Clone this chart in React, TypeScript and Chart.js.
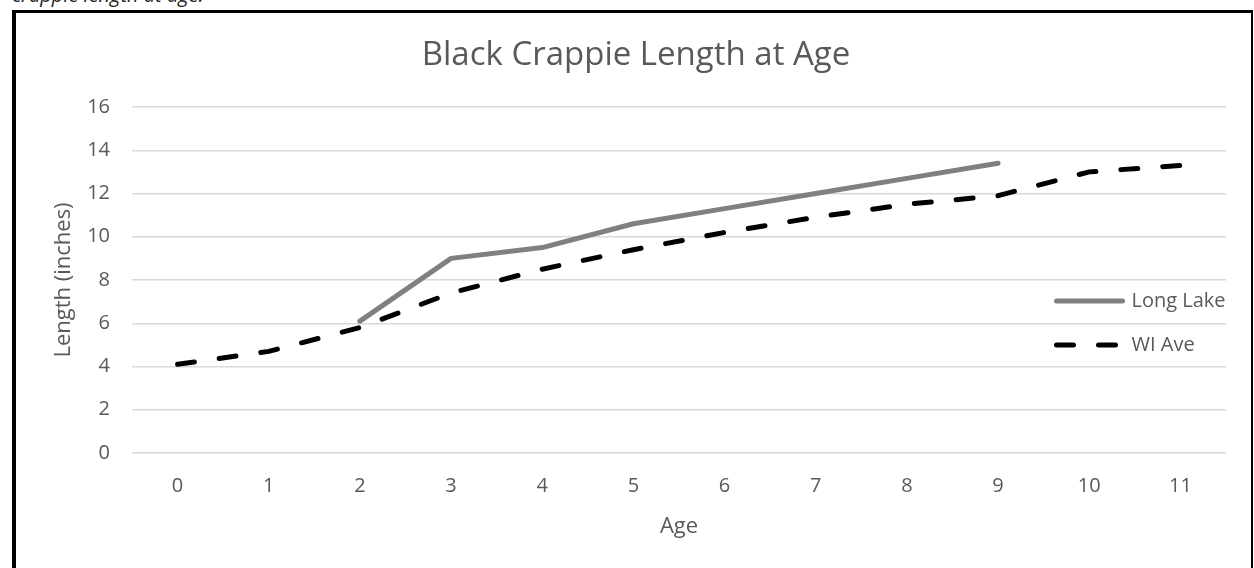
import React, { useEffect, useRef } from "react";
import { Chart, registerables } from "chart.js";

Chart.register(...registerables);

const ages = ["0", "1", "2", "3", "4", "5", "6", "7", "8", "9", "10", "11"];
const longLake = [null, null, 6.1, 9.0, 9.5, 10.6, 11.3, 12.0, 12.7, 13.4, null, null];
const wiAve = [4.1, 4.7, 5.8, 7.4, 8.5, 9.4, 10.2, 10.9, 11.5, 11.9, 13.0, 13.3];
const seriesNames = ["Long Lake", "WI Ave"];
const yMin = 0;
const yMax = 16;
const yStep = 2;
const chartTitle = "Black Crappie Length at Age";
const yTitle = "Length (inches)";
const xTitle = "Age";
const captionText = "crappie length at age.";

const FONT = '"Open Sans", "DejaVu Sans", sans-serif';
const TEXT = "#595959";

const insideLegend = {
  id: "insideLegend",
  afterDatasetsDraw(chart: any) {
    const { ctx, chartArea } = chart;
    const x0 = chartArea.right - 169.5;
    const sampleLen = 66;
    const rows = [chartArea.top + 194, chartArea.top + 238];
    chart.data.datasets.forEach((ds: any, i: number) => {
      const y = rows[i];
      ctx.save();
      ctx.strokeStyle = ds.borderColor;
      ctx.lineWidth = ds.borderWidth;
      ctx.lineCap = "round";
      ctx.setLineDash(ds.borderDash || []);
      ctx.beginPath();
      ctx.moveTo(x0, y);
      ctx.lineTo(x0 + sampleLen, y);
      ctx.stroke();
      ctx.setLineDash([]);
      ctx.fillStyle = TEXT;
      ctx.font = `20px ${FONT}`;
      ctx.textAlign = "left";
      ctx.textBaseline = "middle";
      ctx.fillText(ds.label, x0 + sampleLen + 9, y);
      ctx.restore();
    });
  },
};

export default function App() {
  const canvasRef = useRef<HTMLCanvasElement | null>(null);

  useEffect(() => {
    const canvas = canvasRef.current;
    if (!canvas) return;
    const chart = new Chart(canvas, {
      type: "line",
      data: {
        labels: ages,
        datasets: [
          {
            label: seriesNames[0],
            data: longLake,
            borderColor: "#808080",
            backgroundColor: "#808080",
            borderWidth: 5,
            borderCapStyle: "round",
            borderJoinStyle: "round",
            pointRadius: 0,
            pointHoverRadius: 0,
            tension: 0,
            spanGaps: false,
          },
          {
            label: seriesNames[1],
            data: wiAve,
            borderColor: "#000000",
            backgroundColor: "#000000",
            borderWidth: 5,
            borderDash: [17, 25],
            borderCapStyle: "round",
            borderJoinStyle: "round",
            pointRadius: 0,
            pointHoverRadius: 0,
            tension: 0,
          },
        ],
      },
      options: {
        animation: false,
        responsive: false,
        maintainAspectRatio: false,
        events: [],
        layout: { padding: { top: 10, left: 46, right: 28, bottom: 0 } },
        plugins: {
          legend: { display: false },
          tooltip: { enabled: false },
          title: {
            display: true,
            text: chartTitle,
            color: TEXT,
            font: { family: FONT, size: 33, weight: "normal" },
            padding: { top: 26.2, bottom: 31.2 },
          },
        },
        scales: {
          x: {
            offset: true,
            grid: { display: false, drawTicks: false, offset: true },
            border: { display: false },
            ticks: {
              color: TEXT,
              font: { family: FONT, size: 20 },
              padding: 21,
              maxRotation: 0,
              autoSkip: false,
            },
            title: {
              display: true,
              text: xTitle,
              color: TEXT,
              font: { family: FONT, size: 22 },
              padding: { top: 0, bottom: 28 },
            },
            afterFit(scale: any) {
              scale.height = 115;
            },
          },
          y: {
            min: yMin,
            max: yMax,
            grid: { color: "#d9d9d9", lineWidth: 1.5, drawTicks: false },
            border: { display: false },
            ticks: {
              stepSize: yStep,
              color: TEXT,
              font: { family: FONT, size: 20 },
              padding: 22,
            },
            title: {
              display: true,
              text: yTitle,
              color: TEXT,
              font: { family: FONT, size: 22 },
              padding: { top: 4.8, bottom: 0 },
            },
            afterFit(scale: any) {
              scale.width = 86;
            },
          },
        },
      },
      plugins: [insideLegend],
    });
    return () => chart.destroy();
  }, []);

  return (
    <div
      style={{
        position: "absolute",
        left: 0,
        top: 0,
        width: 1254,
        height: 568,
        overflow: "hidden",
        background: "#ffffff",
      }}
    >
      <div
        style={{
          position: "absolute",
          left: 12,
          top: -15.5,
          fontFamily: FONT,
          fontStyle: "italic",
          fontSize: 20,
          lineHeight: "20px",
          color: "#222222",
          whiteSpace: "nowrap",
        }}
      >
        {captionText}
      </div>
      <div
        style={{
          position: "absolute",
          left: 12,
          top: 10,
          width: 1254 - 12 - 4 - 2 - 1,
          height: 700,
          borderLeft: "4px solid #000",
          borderTop: "3px solid #000",
          borderRight: "2px solid #000",
          boxSizing: "content-box",
        }}
      />
      <canvas
        ref={canvasRef}
        width={1254}
        height={568}
        style={{ position: "absolute", left: 0, top: 0, width: 1254, height: 568 }}
      />
    </div>
  );
}
